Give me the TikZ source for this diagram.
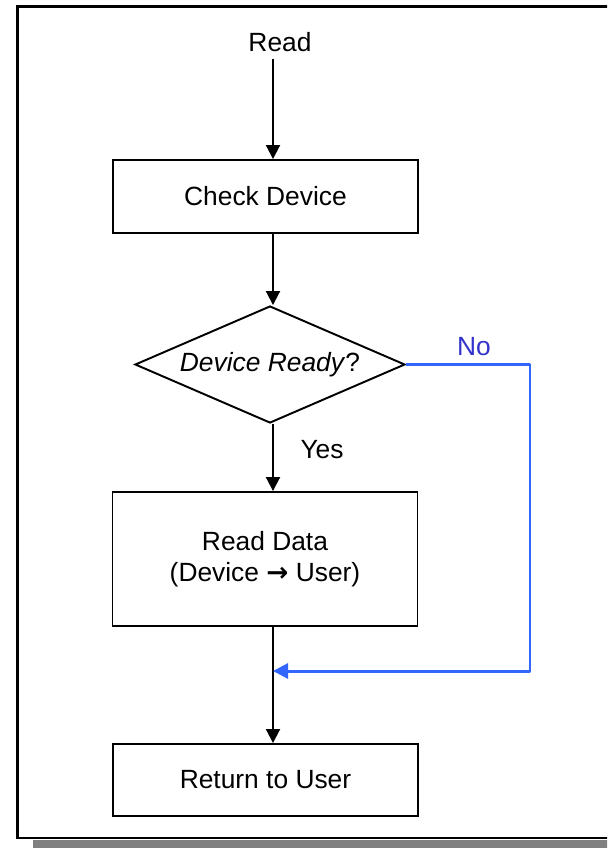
\documentclass[tikz,border=0pt]{standalone}
\usepackage{fontspec}
\setmainfont{Liberation Sans}
\newfontfamily\symfont{DejaVu Sans}
\usetikzlibrary{arrows.meta, positioning, shapes.geometric}
\definecolor{cline}{HTML}{3366FF}
\definecolor{ctext}{HTML}{3333CC}
\definecolor{cshade}{HTML}{808080}
\tikzset{
  every picture/.style={font=\fontsize{15}{18}\selectfont, line width=1.1pt},
  box/.style={draw, rectangle, align=center, minimum width=6.1cm, inner sep=4pt},
  decision/.style={draw, diamond, aspect=2.3, inner sep=0pt, minimum width=5.4cm, minimum height=2.34cm},
  arrow/.style={-{Triangle[length=2.8mm, width=2.8mm]}, draw=black},
  noarrow/.style={-{Triangle[length=3mm, width=3mm]}, draw=cline, line width=1.7pt, line join=round},
  label/.style={inner sep=1pt},
}

\begin{document}
\begin{tikzpicture}
  \useasboundingbox (0,0) rectangle (12.14,-16.96);
  \clip (0,0) rectangle (12.14,-16.96);
  % page frame with its shadow, running off the right side
  \fill[cshade] (0.66,-16.79) rectangle (13,-17.2);
  \draw[line width=1.5pt] (0.35,-0.13) rectangle (13,-16.76);

  \coordinate (axis) at (5.46,0);
  \node (read) at (5.6,-0.84) {Read};
  \node[box, minimum height=1.46cm] (check) at (5.31,-3.93) {Check Device};
  \node[decision] (ready) at (5.4,-7.29) {\textit{Device Ready}?};
  \node[box, minimum height=2.68cm] (data) at (5.3,-11.18) {Read Data\\(Device {\symfont\bfseries →} User)};
  \node[box, minimum height=1.44cm] (ret) at (5.31,-15.6) {Return to User};
  \node[label] (yes) at (6.44,-9.0) {Yes};
  \node[label, text=ctext] (no) at (9.48,-6.94) {No};
  \coordinate (back) at (10.6,-13.42);

  \draw[arrow] (read.south -| axis) -- (check.north -| axis);
  \draw[arrow] (check.south -| axis) -- (ready.north -| axis);
  \draw[arrow] (ready.south -| axis) -- (data.north -| axis);
  \draw[arrow] (data.south -| axis) -- (ret.north -| axis);
  \draw[noarrow] (ready.east) -| (back) -- (back -| axis);
\end{tikzpicture}
\end{document}
